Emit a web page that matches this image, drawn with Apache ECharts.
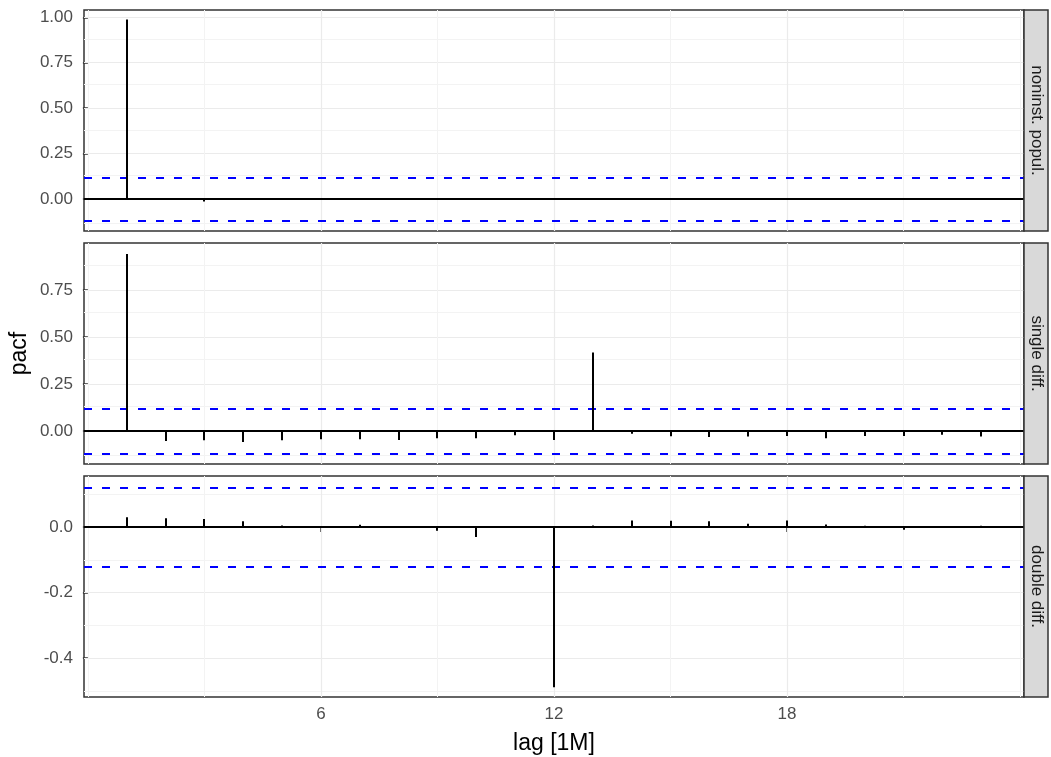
<!DOCTYPE html>
<html>
<head>
<meta charset="utf-8">
<script src="https://cdn.jsdelivr.net/npm/echarts@6/dist/echarts.min.js"></script>
<style>
html,body{margin:0;padding:0;background:#fff;}
#chart{width:1051px;height:757px;}
</style>
</head>
<body>
<div id="chart"></div>
<script>
// ---- data ----
const lags = [1,2,3,4,5,6,7,8,9,10,11,12,13,14,15,16,17,18,19,20,21,22,23];
const panelNames = ['noninst. popul.', 'single diff.', 'double diff.'];
const pacfNonInst = [0.988,-0.004,-0.013,-0.004,-0.004,-0.003,-0.003,-0.003,-0.003,-0.003,-0.003,-0.003,-0.003,-0.003,-0.003,-0.003,-0.003,-0.003,-0.003,-0.003,-0.003,-0.003,-0.003];
const pacfSingle = [0.942,-0.053,-0.050,-0.059,-0.050,-0.044,-0.044,-0.048,-0.039,-0.039,-0.023,-0.048,0.417,-0.015,-0.028,-0.032,-0.030,-0.027,-0.039,-0.027,-0.027,-0.021,-0.030];
const pacfDouble = [0.030,0.027,0.025,0.018,0.005,0.001,0.007,-0.002,-0.011,-0.030,0.001,-0.489,0.005,0.020,0.019,0.018,0.010,0.020,0.008,0.004,-0.008,0.001,0.004];
const ciBound = 0.123;
const xTickLabels = [6, 12, 18];
const xMajorGrid = [6, 12, 18];
const xMinorGrid = [0, 3, 9, 15, 21, 24];
const yTicks = [[0, 0.25, 0.5, 0.75, 1], [0, 0.25, 0.5, 0.75], [-0.4, -0.2, 0]];
const yMinorGrid = [[-0.125, 0.125, 0.375, 0.625, 0.875], [-0.125, 0.125, 0.375, 0.625, 0.875], [-0.5, -0.3, -0.1, 0.1]];
const yRanges = [[-0.175, 1.04], [-0.176, 1.0], [-0.519, 0.156]];
const yDecimals = [2, 2, 1];

// ---- layout ----
const FONT = '"Liberation Sans", Arial, Helvetica, sans-serif';
const gridLeft = 84, gridWidth = 940, panelH = 221;
const panelTops = [10, 243, 476];
const seriesData = [pacfNonInst, pacfSingle, pacfDouble];

const grids = [], xAxes = [], yAxes = [], series = [], graphics = [];

panelTops.forEach((top, i) => {
  const last = i === panelTops.length - 1;
  grids.push({
    left: gridLeft, top: top, width: gridWidth, height: panelH,
    show: true, borderColor: '#333333', borderWidth: 1.5, backgroundColor: '#ffffff'
  });
  xAxes.push({
    type: 'value', gridIndex: i, min: -0.1, max: 24.1,
    axisLine: { show: false },
    splitLine: { show: false },
    axisTick: last ? { show: true, customValues: xTickLabels, length: 5, lineStyle: { color: '#333333', width: 1.5 } } : { show: false },
    axisLabel: last ? { show: true, customValues: xTickLabels, color: '#4d4d4d', fontSize: 17, fontFamily: FONT, margin: 9 } : { show: false }
  });
  yAxes.push({
    type: 'value', gridIndex: i, min: yRanges[i][0], max: yRanges[i][1],
    axisLine: { show: false },
    splitLine: { show: false },
    axisTick: { show: true, customValues: yTicks[i], length: 5, lineStyle: { color: '#333333', width: 1.5 } },
    axisLabel: {
      show: true, customValues: yTicks[i], color: '#4d4d4d', fontSize: 17, fontFamily: FONT, margin: 11,
      formatter: (v) => Number(v).toFixed(yDecimals[i])
    }
  });
  // gridlines
  const gl = [];
  yTicks[i].forEach(v => gl.push({ yAxis: v, lineStyle: { color: '#ebebeb', width: 1.2, type: 'solid' } }));
  yMinorGrid[i].forEach(v => gl.push({ yAxis: v, lineStyle: { color: '#f3f3f3', width: 1, type: 'solid' } }));
  xMajorGrid.forEach(v => gl.push({ xAxis: v, lineStyle: { color: '#ebebeb', width: 1.2, type: 'solid' } }));
  xMinorGrid.forEach(v => gl.push({ xAxis: v, lineStyle: { color: '#f3f3f3', width: 1, type: 'solid' } }));
  series.push({
    type: 'line', xAxisIndex: i, yAxisIndex: i, data: [], z: 1, silent: true,
    markLine: { z: 1, silent: true, symbol: ['none', 'none'], label: { show: false }, animation: false, data: gl }
  });
  // reference lines
  series.push({
    type: 'line', xAxisIndex: i, yAxisIndex: i, data: [], z: 2, silent: true,
    markLine: {
      z: 2, silent: true, symbol: ['none', 'none'], label: { show: false }, animation: false,
      data: [
        { yAxis: 0, lineStyle: { color: '#000000', width: 2, type: 'solid' } },
        { yAxis: ciBound, lineStyle: { color: '#0000ff', width: 1.8, type: [8, 10] } },
        { yAxis: -ciBound, lineStyle: { color: '#0000ff', width: 1.8, type: [8, 10] } }
      ]
    }
  });
  // spikes
  series.push({
    type: 'custom', xAxisIndex: i, yAxisIndex: i, z: 4, silent: true,
    data: lags.map((l, k) => [l, seriesData[i][k]]),
    renderItem: (params, api) => {
      const p0 = api.coord([api.value(0), 0]);
      const p1 = api.coord([api.value(0), api.value(1)]);
      const x = Math.round(p0[0]);
      return {
        type: 'line',
        shape: { x1: x, y1: p0[1], x2: x, y2: p1[1] },
        style: { stroke: '#000000', lineWidth: 2 }
      };
    }
  });
  // facet strip
  graphics.push({
    type: 'rect', shape: { x: gridLeft + gridWidth, y: top, width: 24, height: panelH },
    style: { fill: '#d9d9d9', stroke: '#333333', lineWidth: 1.5 }, z: 10
  });
  graphics.push({
    type: 'text', x: gridLeft + gridWidth + 12.5, y: top + panelH / 2, rotation: -Math.PI / 2, z: 11,
    style: { text: panelNames[i], x: 0, y: 0, align: 'center', verticalAlign: 'middle', fill: '#1a1a1a', fontSize: 17, fontFamily: FONT }
  });
});

// axis titles
graphics.push({
  type: 'text', x: gridLeft + gridWidth / 2, y: 744, z: 11,
  style: { text: 'lag [1M]', x: 0, y: 0, align: 'center', verticalAlign: 'middle', fill: '#000000', fontSize: 23, fontFamily: FONT }
});
graphics.push({
  type: 'text', x: 20, y: (panelTops[0] + panelTops[2] + panelH) / 2, rotation: Math.PI / 2, z: 11,
  style: { text: 'pacf', x: 0, y: 0, align: 'center', verticalAlign: 'middle', fill: '#000000', fontSize: 23, fontFamily: FONT }
});

const chart = echarts.init(document.getElementById('chart'), null, { renderer: 'canvas' });
chart.setOption({
  animation: false,
  backgroundColor: '#ffffff',
  grid: grids,
  xAxis: xAxes,
  yAxis: yAxes,
  series: series,
  graphic: graphics
});
</script>
</body>
</html>
